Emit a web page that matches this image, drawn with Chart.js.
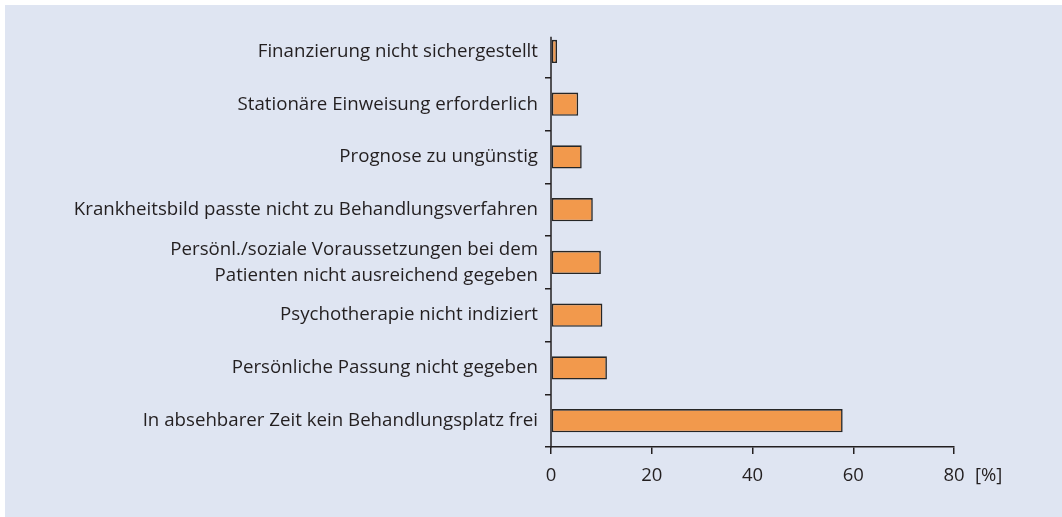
<!DOCTYPE html>
<html>
<head>
<meta charset="utf-8">
<script src="https://cdn.jsdelivr.net/npm/chart.js@4"></script>
<style>
  html, body { margin: 0; padding: 0; background: #fff; }
  #panel { position: absolute; left: 5px; top: 5px; width: 1057px; height: 512px; background: #dfe5f2; }
  canvas { display: block; }
</style>
</head>
<body>
<div id="panel"><canvas id="chart" width="1057" height="512"></canvas></div>
<script>
// Gründe für Ablehnung (Anteil in %)
const categories = [
  "Finanzierung nicht sichergestellt",
  "Stationäre Einweisung erforderlich",
  "Prognose zu ungünstig",
  "Krankheitsbild passte nicht zu Behandlungsverfahren",
  ["Persönl./soziale Voraussetzungen bei dem", "Patienten nicht ausreichend gegeben"],
  "Psychotherapie nicht indiziert",
  "Persönliche Passung nicht gegeben",
  "In absehbarer Zeit kein Behandlungsplatz frei",
];
const values = [1.2, 5.4, 6.1, 8.3, 9.9, 10.2, 11.1, 57.9];
const xTicks = [0, 20, 40, 60, 80];
const unitLabel = "[%]";

const ink = "#231f20";
const family = "'Open Sans', sans-serif";
const xFont = { family, size: 18.5, lineHeight: 1.2 };
const yFont = { family, size: 18.7, lineHeight: 1.4 };
const xTickPad = 11;

// y-Achse beginnt knapp über dem ersten Balken, "[%]" rechts neben der 80
const axisPlugin = {
  id: "axisExtras",
  afterDraw(chart) {
    const { ctx } = chart;
    const x = chart.scales.x;
    const y = chart.scales.y;
    const first = chart.getDatasetMeta(0).data[0];
    ctx.save();
    ctx.strokeStyle = ink;
    ctx.lineWidth = 1.5;
    ctx.beginPath();
    ctx.moveTo(y.right, first.y - first.height / 2 - 3);
    ctx.lineTo(y.right, y.bottom + 0.75);
    ctx.stroke();

    ctx.font = `${xFont.size}px ${family}`;
    ctx.fillStyle = ink;
    ctx.textBaseline = "middle";
    ctx.textAlign = "left";
    ctx.fillText(unitLabel, x.getPixelForValue(80) + 21, x.top + 7 + xTickPad + (xFont.size * xFont.lineHeight) / 2);
    ctx.restore();
  },
};

new Chart(document.getElementById("chart"), {
  type: "bar",
  data: {
    labels: categories,
    datasets: [
      {
        data: values,
        backgroundColor: "#f2994c",
        borderColor: "#262626",
        borderWidth: 1.6,
        borderSkipped: false,
        barPercentage: 0.44,
        categoryPercentage: 1,
      },
    ],
  },
  options: {
    indexAxis: "y",
    responsive: false,
    animation: false,
    layout: { padding: { top: 18, right: 108 } },
    plugins: { legend: { display: false }, tooltip: { enabled: false } },
    scales: {
      x: {
        min: 0,
        max: 80,
        afterBuildTicks: (s) => { s.ticks = xTicks.map((v) => ({ value: v })); },
        afterFit: (s) => { s.height = 70; },
        border: { color: ink, width: 1.5 },
        grid: { drawOnChartArea: false, tickLength: 7, color: ink, lineWidth: 1.5 },
        ticks: { color: ink, font: xFont, padding: xTickPad, maxRotation: 0 },
      },
      y: {
        afterFit: (s) => { s.width = 546; },
        border: { display: false },
        grid: {
          drawOnChartArea: false,
          offset: true,
          tickLength: 6,
          lineWidth: 1.5,
          color: (c) => (c.index === 0 ? "rgba(0,0,0,0)" : ink),
        },
        ticks: { color: ink, font: yFont, padding: 7, crossAlign: "near", autoSkip: false },
      },
    },
  },
  plugins: [axisPlugin],
});
</script>
</body>
</html>
